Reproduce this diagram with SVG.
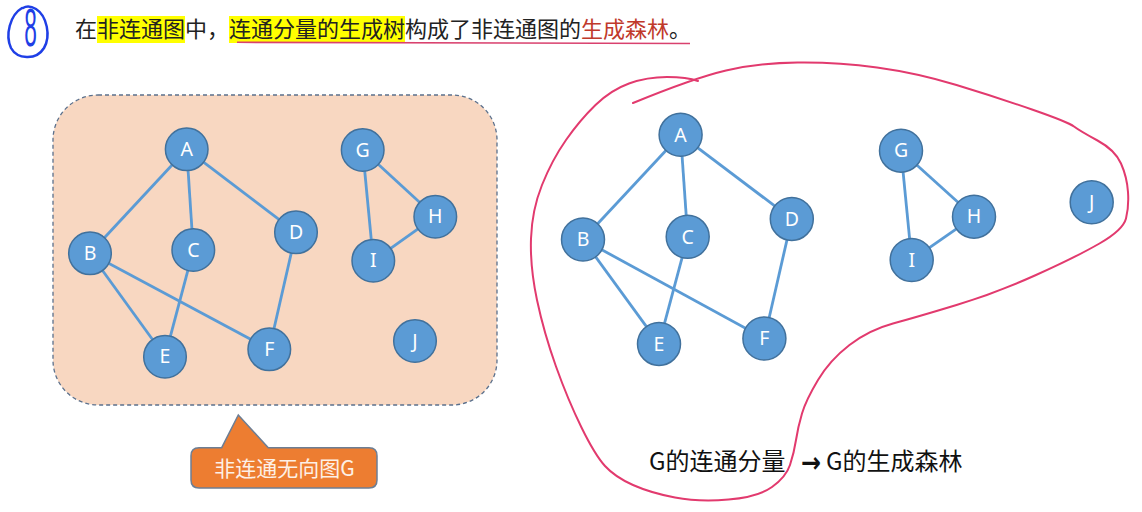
<svg xmlns="http://www.w3.org/2000/svg" width="1142" height="512" viewBox="0 0 1142 512">
<style>
.nd{fill:#5B9BD5;stroke:#41719C;stroke-width:1.5}
.lb{font-family:"Noto Sans","Liberation Sans",sans-serif;font-size:19.5px;fill:#ffffff;text-anchor:middle}
.ed line{stroke:#5B9BD5;stroke-width:2.8}
.cjk{font-family:"Noto Sans CJK SC","Noto Sans",sans-serif}
.ink{fill:none;stroke:#E23A6E;stroke-width:2;stroke-linecap:round;stroke-linejoin:round}
</style>
<rect width="1142" height="512" fill="#ffffff"/>

<!-- hand-drawn number annotation -->
<g id="badge">
<path d="M22,8 C10,15 5,35 11,48 C17,59 36,61 44,48 C51,36 47,16 36,9 C31,6 26,6 23,8" fill="none" stroke="#1F3FE6" stroke-width="2.5" stroke-linecap="round"/>
<text transform="translate(30.5,46) scale(0.42,1)" font-family="Liberation Sans,sans-serif" font-size="54" fill="#1F3FE6" text-anchor="middle">8</text>
</g>

<!-- title -->
<g id="title">
<rect x="97" y="16" width="88" height="27" fill="#FFFF00"/>
<rect x="229" y="16" width="176" height="27" fill="#FFFF00"/>
<text class="cjk" x="75" y="37" font-size="22" fill="#222222">在非连通图中，连通分量的生成树构成了非连通图的<tspan fill="#C0392B">生成森林</tspan>。</text>
<path d="M237,42.3 L690,43.5" fill="none" stroke="#D9416E" stroke-width="1.6"/>
</g>

<!-- left panel -->
<g id="panel">
<rect x="53" y="95" width="444" height="310" rx="45" ry="45" fill="#F8D7C1" stroke="#5B708C" stroke-width="1.3" stroke-dasharray="4,3"/>
</g>

<g id="connectors">
<g class="ed">
<line x1="186.7" y1="149.3" x2="90" y2="253.3"/>
<line x1="186.7" y1="149.3" x2="193.3" y2="250"/>
<line x1="186.7" y1="149.3" x2="296" y2="232.3"/>
<line x1="90" y1="253.3" x2="165" y2="356.7"/>
<line x1="90" y1="253.3" x2="269.3" y2="349.3"/>
<line x1="193.3" y1="250" x2="165" y2="356.7"/>
<line x1="296" y1="232.3" x2="269.3" y2="349.3"/>
<line x1="362.7" y1="150" x2="373.3" y2="260.7"/>
<line x1="362.7" y1="150" x2="435.3" y2="216.7"/>
<line x1="435.3" y1="216.7" x2="373.3" y2="260.7"/>

<line x1="680.6" y1="134.8" x2="583" y2="239.5"/>
<line x1="680.6" y1="134.8" x2="687.7" y2="236.8"/>
<line x1="680.6" y1="134.8" x2="791.8" y2="218.9"/>
<line x1="583" y1="239.5" x2="659" y2="343.9"/>
<line x1="583" y1="239.5" x2="764.4" y2="338.5"/>
<line x1="687.7" y1="236.8" x2="659" y2="343.9"/>
<line x1="791.8" y1="218.9" x2="764.4" y2="338.5"/>
<line x1="901" y1="150.7" x2="911.7" y2="260"/>
<line x1="901" y1="150.7" x2="974" y2="216.7"/>
<line x1="974" y1="216.7" x2="911.7" y2="260"/>
</g>
</g>

<!-- left graph nodes -->
<g id="L_A"><circle class="nd" cx="186.7" cy="149.3" r="21.3"/><text class="lb" x="186.7" y="156">A</text></g>
<g id="L_B"><circle class="nd" cx="90" cy="253.3" r="21.3"/><text class="lb" x="90" y="260">B</text></g>
<g id="L_C"><circle class="nd" cx="193.3" cy="250" r="21.3"/><text class="lb" x="193.3" y="256.7">C</text></g>
<g id="L_D"><circle class="nd" cx="296" cy="232.3" r="21.3"/><text class="lb" x="296" y="239">D</text></g>
<g id="L_E"><circle class="nd" cx="165" cy="356.7" r="21.3"/><text class="lb" x="165" y="363.4">E</text></g>
<g id="L_F"><circle class="nd" cx="269.3" cy="349.3" r="21.3"/><text class="lb" x="269.3" y="356">F</text></g>
<g id="L_G"><circle class="nd" cx="362.7" cy="150" r="21.3"/><text class="lb" x="362.7" y="156.7">G</text></g>
<g id="L_H"><circle class="nd" cx="435.3" cy="216.7" r="21.3"/><text class="lb" x="435.3" y="223.4">H</text></g>
<g id="L_I"><circle class="nd" cx="373.3" cy="260.7" r="21.3"/><text class="lb" x="373.3" y="267.4">I</text></g>
<g id="L_J"><circle class="nd" cx="415" cy="341" r="21.3"/><text class="lb" x="415" y="347.7">J</text></g>

<!-- callout -->
<g id="callout">
<path d="M199,447.7 L221.7,447.7 L238.3,415 L268.3,447.7 L369,447.7 Q377,447.7 377,455.7 L377,480 Q377,488 369,488 L199,488 Q191,488 191,480 L191,455.7 Q191,447.7 199,447.7 Z" fill="#ED7D31" stroke="#6D7E94" stroke-width="1.5"/>
<text class="cjk" x="284.5" y="476" font-size="21" fill="#FDF0E6" text-anchor="middle">非连通无向图G</text>
</g>

<!-- right graph nodes -->
<g id="R_A"><circle class="nd" cx="680.6" cy="134.8" r="21.5"/><text class="lb" x="680.6" y="141.5">A</text></g>
<g id="R_B"><circle class="nd" cx="583" cy="239.5" r="21.5"/><text class="lb" x="583" y="246.2">B</text></g>
<g id="R_C"><circle class="nd" cx="687.7" cy="236.8" r="21.5"/><text class="lb" x="687.7" y="243.5">C</text></g>
<g id="R_D"><circle class="nd" cx="791.8" cy="218.9" r="21.5"/><text class="lb" x="791.8" y="225.6">D</text></g>
<g id="R_E"><circle class="nd" cx="659" cy="343.9" r="21.5"/><text class="lb" x="659" y="350.6">E</text></g>
<g id="R_F"><circle class="nd" cx="764.4" cy="338.5" r="21.5"/><text class="lb" x="764.4" y="345.2">F</text></g>
<g id="R_G"><circle class="nd" cx="901" cy="150.7" r="21.5"/><text class="lb" x="901" y="157.4">G</text></g>
<g id="R_H"><circle class="nd" cx="974" cy="216.7" r="21.5"/><text class="lb" x="974" y="223.4">H</text></g>
<g id="R_I"><circle class="nd" cx="911.7" cy="260" r="21.5"/><text class="lb" x="911.7" y="266.7">I</text></g>
<g id="R_J"><circle class="nd" cx="1091.7" cy="202.3" r="21.5"/><text class="lb" x="1091.7" y="209">J</text></g>

<!-- lasso -->
<g id="lasso">
<path class="ink" d="M633,103 Q694,78 726,70.5 Q758,63 797.5,62.5 Q837,62 877,67.5 Q917,73 956.5,85 Q996,97 1032,109.5 Q1068,122 1074,126.5 Q1080,131 1097.5,140.5 Q1115,150 1121,163.5 Q1127,177 1128,192 Q1129,207 1126,218.5 Q1123,230 1099.5,243.5 Q1076,257 1036,275 Q996,293 956.5,305 Q917,317 893,323.5 Q869,330 849.5,345 Q830,360 818,380 Q806,400 802,413.5 Q798,427 796,440 Q794,453 790,465 Q786,477 772,487 Q758,497 728.5,499.5 Q699,502 675,497.5 Q651,493 633,485 Q615,477 605,466 Q595,455 581.5,427.5 Q568,400 556,366.5 Q544,333 537,300 Q530,267 531,238.5 Q532,210 542,185 Q552,160 566,140 Q580,120 595.5,105 Q611,90 629,83.5 Q647,77 667,77 Q687,77 698,81"/>
</g>

<!-- caption -->
<g id="caption">
<text class="cjk" x="649" y="470" font-size="24" fill="#111111">G的连通分量</text>
<text x="801" y="472" font-family="DejaVu Sans,sans-serif" font-size="28" font-weight="bold" fill="#111111" textLength="20" lengthAdjust="spacingAndGlyphs">→</text>
<text class="cjk" x="826" y="470" font-size="24" fill="#111111">G的生成森林</text>
</g>
</svg>
